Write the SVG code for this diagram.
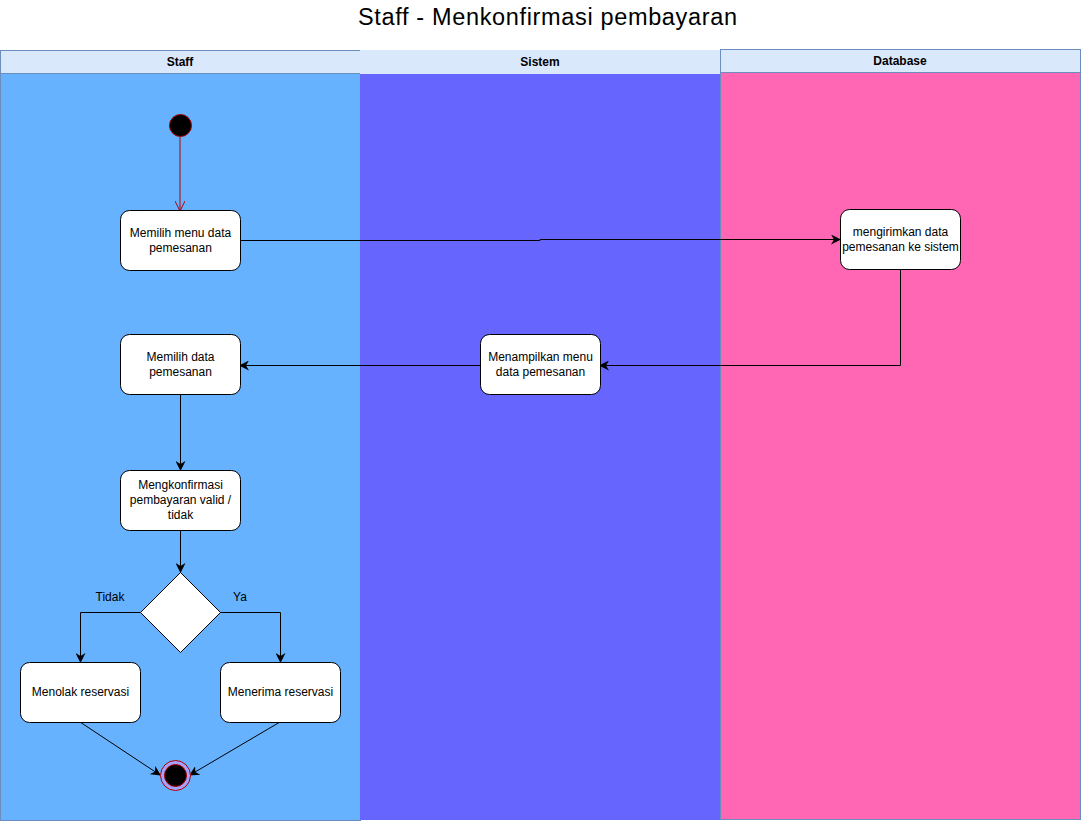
<svg xmlns="http://www.w3.org/2000/svg" width="1081" height="821" viewBox="0 0 1081 821">
<style>
text{font-family:"Liberation Sans",Arial,sans-serif;fill:#000}
.hdr{font-size:12px;font-weight:bold;text-anchor:middle}
.lbl{font-size:12px;text-anchor:middle}
.box{fill:#fff;stroke:#000;stroke-width:1}
.edge{fill:none;stroke:#000;stroke-width:1}
</style>
<defs>
<marker id="arr" viewBox="0 0 10 10" refX="9" refY="5" markerWidth="10" markerHeight="10" markerUnits="userSpaceOnUse" orient="auto">
<path d="M0,0 L10,5 L0,10 L3,5 Z" fill="#000"/>
</marker>
<marker id="arrRed" viewBox="0 0 10 10" refX="9" refY="5" markerWidth="10" markerHeight="10" markerUnits="userSpaceOnUse" orient="auto">
<path d="M0,0 L10,5 L0,10" fill="none" stroke="#b20000"/>
</marker>
</defs>
<rect width="1081" height="821" fill="#fff"/>
<text x="358" y="25" style="font-size:23.5px" textLength="379" lengthAdjust="spacing">Staff - Menkonfirmasi pembayaran</text>
<g id="lane-staff">
<rect x="0.5" y="50.5" width="360" height="770" fill="#66b2ff" stroke="#6c8ebf"/>
<rect x="0.5" y="50.5" width="360" height="23" fill="#dae8fc" stroke="#6c8ebf"/>
<text class="hdr" x="180" y="66">Staff</text>
</g>
<g id="lane-sistem">
<rect x="360" y="50" width="360" height="770" fill="#6666ff"/>
<rect x="360" y="50" width="360" height="24" fill="#dae8fc"/>
<text class="hdr" x="540" y="66">Sistem</text>
</g>
<g id="lane-database">
<rect x="720.5" y="49.5" width="360" height="770" fill="#ff66b3" stroke="#6c8ebf"/>
<rect x="720.5" y="49.5" width="360" height="23" fill="#dae8fc" stroke="#6c8ebf"/>
<text class="hdr" x="900" y="65">Database</text>
</g>
<g id="connectors">
<path class="edge" d="M180,137 V210" stroke="#b20000" style="stroke:#b20000" marker-end="url(#arrRed)"/>
<path class="edge" d="M240,240.5 H540 V239.5 H840" marker-end="url(#arr)"/>
<path class="edge" d="M900.5,270 V365.5 H600" marker-end="url(#arr)"/>
<path class="edge" d="M480,365.5 H240" marker-end="url(#arr)"/>
<path class="edge" d="M180.5,395 V470" marker-end="url(#arr)"/>
<path class="edge" d="M180.5,530 V572" marker-end="url(#arr)"/>
<path class="edge" d="M140,612.5 H80.5 V662" marker-end="url(#arr)"/>
<path class="edge" d="M220,612.5 H280.5 V662" marker-end="url(#arr)"/>
<path class="edge" d="M80,722 L160,775" marker-end="url(#arr)"/>
<path class="edge" d="M280,722 L190,775" marker-end="url(#arr)"/>
<text class="lbl" x="110" y="601">Tidak</text>
<text class="lbl" x="240" y="601">Ya</text>
</g>
<g id="start">
<circle cx="180.5" cy="125.5" r="11" fill="#000" stroke="#b20000"/>
</g>
<g id="n1">
<rect class="box" x="120.5" y="210.5" width="120" height="60" rx="9"/>
<text class="lbl" x="180.5" y="237">Memilih menu data</text>
<text class="lbl" x="180.5" y="252">pemesanan</text>
</g>
<g id="n2">
<rect class="box" x="840.5" y="209.5" width="120" height="60" rx="9"/>
<text class="lbl" x="900.5" y="236">mengirimkan data</text>
<text class="lbl" x="900.5" y="251">pemesanan ke sistem</text>
</g>
<g id="n3">
<rect class="box" x="480.5" y="334.5" width="120" height="60" rx="9"/>
<text class="lbl" x="540.5" y="361">Menampilkan menu</text>
<text class="lbl" x="540.5" y="376">data pemesanan</text>
</g>
<g id="n4">
<rect class="box" x="120.5" y="334.5" width="120" height="60" rx="9"/>
<text class="lbl" x="180.5" y="361">Memilih data</text>
<text class="lbl" x="180.5" y="376">pemesanan</text>
</g>
<g id="n5">
<rect class="box" x="120.5" y="470.5" width="120" height="60" rx="9"/>
<text class="lbl" x="180.5" y="489">Mengkonfirmasi</text>
<text class="lbl" x="180.5" y="504">pembayaran valid /</text>
<text class="lbl" x="180.5" y="519">tidak</text>
</g>
<g id="decision">
<path class="box" d="M180.5,572.5 L220.5,612.5 L180.5,652.5 L140.5,612.5 Z"/>
</g>
<g id="n6">
<rect class="box" x="20.5" y="662.5" width="120" height="60" rx="9"/>
<text class="lbl" x="80.5" y="696">Menolak reservasi</text>
</g>
<g id="n7">
<rect class="box" x="220.5" y="662.5" width="120" height="60" rx="9"/>
<text class="lbl" x="280.5" y="696">Menerima reservasi</text>
</g>
<g id="end">
<circle cx="175.5" cy="775.5" r="15" fill="#a3a3ff" stroke="#b20000"/>
<circle cx="175.5" cy="775.5" r="11" fill="#000" stroke="#b20000"/>
</g>
</svg>
